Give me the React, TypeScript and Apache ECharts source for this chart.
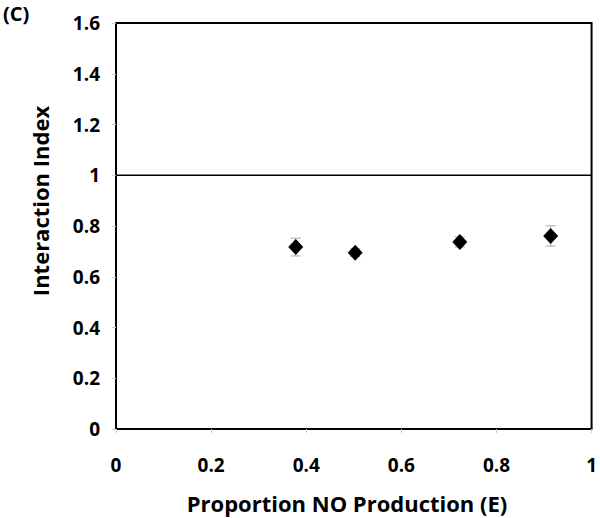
import React, { useEffect, useRef } from "react";
import * as echarts from "echarts";

const xValues = [0.378, 0.503, 0.723, 0.914];
const yValues = [0.717, 0.695, 0.737, 0.761];
const yErrors = [0.035, 0.015, 0.02, 0.04];
const refLine = [[0, 1], [1, 1]];
const panelLabel = "(C)";
const xTitle = "Proportion NO Production (E)";
const yTitle = "Interaction Index";

const FONT = "'Open Sans', 'DejaVu Sans', sans-serif";

export default function App() {
  const ref = useRef<HTMLDivElement>(null);
  useEffect(() => {
    if (!ref.current) return;
    const chart = echarts.init(ref.current, null, { renderer: "svg" });
    const points = xValues.map((x, i) => [x, yValues[i]]);
    const errData = xValues.map((x, i) => [x, yValues[i] - yErrors[i], yValues[i] + yErrors[i]]);
    chart.setOption({
      animation: false,
      backgroundColor: "#fff",
      grid: { left: 116, right: 6, top: 23, bottom: 89 },
      xAxis: {
        type: "value",
        min: 0,
        max: 1,
        interval: 0.2,
        axisLine: { show: true, onZero: false, lineStyle: { color: "#000", width: 2 } },
        axisTick: { show: true, length: 4, lineStyle: { color: "#ccc" } },
        axisLabel: { fontFamily: FONT, fontWeight: "bold", fontSize: 19, color: "#000", margin: 26 },
        splitLine: { show: false },
      },
      yAxis: {
        type: "value",
        min: 0,
        max: 1.6,
        interval: 0.2,
        axisLine: { show: true, lineStyle: { color: "#000", width: 2 } },
        axisTick: { show: true, length: 4, lineStyle: { color: "#ccc" } },
        axisLabel: { fontFamily: FONT, fontWeight: "bold", fontSize: 19, color: "#000", margin: 16 },
        splitLine: { show: false },
      },
      series: [
        {
          type: "line",
          data: refLine,
          symbol: "none",
          lineStyle: { color: "#000", width: 1.5 },
          silent: true,
          z: 1,
        },
        {
          type: "custom",
          data: errData,
          z: 2,
          renderItem: (params: any, api: any) => {
            const x = api.value(0);
            const lo = api.coord([x, api.value(1)]);
            const hi = api.coord([x, api.value(2)]);
            const cap = 5;
            const style = { stroke: "#aaa", lineWidth: 1 };
            return {
              type: "group",
              children: [
                { type: "line", shape: { x1: lo[0], y1: lo[1], x2: hi[0], y2: hi[1] }, style },
                { type: "line", shape: { x1: lo[0] - cap, y1: lo[1], x2: lo[0] + cap, y2: lo[1] }, style },
                { type: "line", shape: { x1: hi[0] - cap, y1: hi[1], x2: hi[0] + cap, y2: hi[1] }, style },
              ],
            };
          },
        },
        {
          type: "scatter",
          data: points,
          symbol: "diamond",
          symbolSize: [15, 16],
          itemStyle: { color: "#000", opacity: 1 },
          z: 3,
        },
      ],
    });
    const toPx = (v: number[]) => chart.convertToPixel({ gridIndex: 0 }, v) as number[];
    const tl = toPx([0, 1.6]);
    const br = toPx([1, 0]);
    chart.setOption({
      graphic: [
        {
          type: "text",
          left: 3,
          top: 3,
          style: { text: panelLabel, font: `bold 20px ${FONT}`, fill: "#000" },
        },
        {
          type: "text",
          x: 347,
          y: 503,
          style: {
            text: xTitle,
            font: `bold 22px ${FONT}`,
            fill: "#000",
            align: "center",
            verticalAlign: "middle",
          },
        },
        {
          type: "text",
          x: 40,
          y: 201,
          rotation: Math.PI / 2,
          style: {
            text: yTitle,
            font: `bold 22px ${FONT}`,
            fill: "#000",
            align: "center",
            verticalAlign: "middle",
          },
        },
        {
          type: "polyline",
          shape: { points: [[tl[0], tl[1]], [br[0], tl[1]], [br[0], br[1]]] },
          style: { stroke: "#000", lineWidth: 2, fill: null },
          silent: true,
        },
      ],
    });
    return () => chart.dispose();
  }, []);
  return <div ref={ref} style={{ width: 600, height: 518, position: "absolute", left: 0, top: 0 }} />;
}
